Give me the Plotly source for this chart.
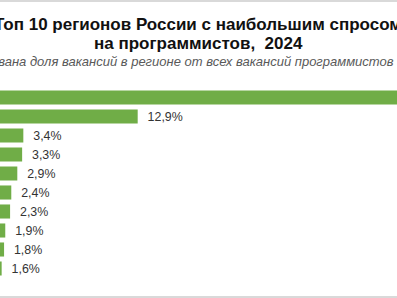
import plotly.graph_objects as go

regions = ["Москва", "Санкт-Петербург", "Новосибирская область", "Свердловская область",
           "Республика Татарстан", "Нижегородская область", "Краснодарский край",
           "Московская область", "Ростовская область", "Самарская область"]
shares = [41.5, 12.9, 3.4, 3.3, 2.9, 2.4, 2.3, 1.9, 1.8, 1.6]

title1 = "Топ 10 регионов России с наибольшим спросом"
title2 = "на программистов,  2024"
subtitle = "Использована доля вакансий в регионе от всех вакансий программистов (%)"

W, H = 397, 298
mt, mb = 88, 20
ph = H - mt - mb

def py(p):
    return (H - mb - p) / ph

fig = go.Figure(go.Bar(
    y=regions, x=shares, orientation="h",
    marker=dict(color="#70AD47", line=dict(width=0)),
    texttemplate="\u00a0\u00a0%{x:.1f}%", textposition="outside",
    textfont=dict(family="Liberation Sans, Arial", size=15, color="#333333"),
    cliponaxis=True,
))

fig.update_layout(
    width=W, height=H,
    margin=dict(l=0, r=0, t=mt, b=mb, pad=0),
    paper_bgcolor="white", plot_bgcolor="white",
    separators=", ",
    bargap=0.26,
    showlegend=False,
    xaxis=dict(range=[1.462, 34.44], showgrid=False, zeroline=False, showticklabels=False,
               showline=False, ticks=""),
    yaxis=dict(autorange="reversed", showgrid=False, zeroline=False, showticklabels=False,
               showline=False, ticks=""),
    annotations=[
        dict(text="<b>" + title1 + "</b>", xref="paper", yref="paper", x=198 / W, y=py(24),
             xanchor="center", yanchor="middle", showarrow=False,
             font=dict(family="Liberation Sans, Arial", size=17, color="#111111")),
        dict(text="<b>" + title2 + "</b>", xref="paper", yref="paper", x=198 / W, y=py(44),
             xanchor="center", yanchor="middle", showarrow=False,
             font=dict(family="Liberation Sans, Arial", size=17, color="#111111")),
        dict(text="<i>" + subtitle + "</i>", xref="paper", yref="paper", x=179 / W, y=py(61),
             xanchor="center", yanchor="middle", showarrow=False,
             font=dict(family="Liberation Sans, Arial", size=13, color="#595959")),
    ],
    shapes=[
        dict(type="rect", xref="paper", yref="paper", x0=-0.1, x1=1.1, y0=py(2), y1=py(-2),
             fillcolor="#d9d9d9", line=dict(width=0), layer="above"),
        dict(type="rect", xref="paper", yref="paper", x0=-0.1, x1=1.1, y0=py(300), y1=py(296),
             fillcolor="#d9d9d9", line=dict(width=0), layer="above"),
    ],
)

fig.write_html("out.html")
